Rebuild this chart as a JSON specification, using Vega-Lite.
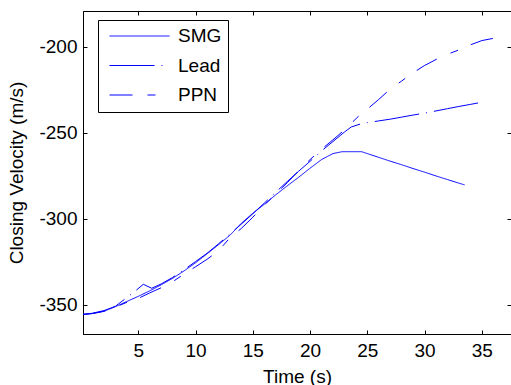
{
  "$schema": "https://vega.github.io/schema/vega-lite/v6.json",
  "autosize": "none",
  "width": 428,
  "height": 323,
  "padding": {"left": 83, "top": 11, "right": 0, "bottom": 51},
  "background": "white",
  "config": {
    "view": {"stroke": "black", "strokeWidth": 1},
    "font": "Liberation Sans",
    "axis": {
      "labelFont": "Liberation Sans", "labelFontSize": 19, "labelColor": "black",
      "titleFont": "Liberation Sans", "titleFontSize": 19, "titleColor": "black", "titleFontWeight": "normal",
      "domainColor": "black", "tickColor": "black", "grid": false
    }
  },
  "data": {"values": [
    {"series": "SMG", "t": 0.17, "v": -355.5},
    {"series": "SMG", "t": 1, "v": -355},
    {"series": "SMG", "t": 2, "v": -353.7},
    {"series": "SMG", "t": 3, "v": -351},
    {"series": "SMG", "t": 4, "v": -348},
    {"series": "SMG", "t": 5, "v": -345},
    {"series": "SMG", "t": 6, "v": -341.8},
    {"series": "SMG", "t": 7, "v": -338.3},
    {"series": "SMG", "t": 8, "v": -334.5},
    {"series": "SMG", "t": 9, "v": -330.2},
    {"series": "SMG", "t": 10, "v": -325.5},
    {"series": "SMG", "t": 11, "v": -320.3},
    {"series": "SMG", "t": 12, "v": -315},
    {"series": "SMG", "t": 13, "v": -309.5},
    {"series": "SMG", "t": 14, "v": -302.5},
    {"series": "SMG", "t": 15, "v": -296.7},
    {"series": "SMG", "t": 16, "v": -291.5},
    {"series": "SMG", "t": 17, "v": -286},
    {"series": "SMG", "t": 18, "v": -280.8},
    {"series": "SMG", "t": 19, "v": -275.8},
    {"series": "SMG", "t": 20, "v": -270.5},
    {"series": "SMG", "t": 21, "v": -265.5},
    {"series": "SMG", "t": 22, "v": -262},
    {"series": "SMG", "t": 22.8, "v": -260.9},
    {"series": "SMG", "t": 24.5, "v": -260.9},
    {"series": "SMG", "t": 25, "v": -262},
    {"series": "SMG", "t": 26, "v": -264.2},
    {"series": "SMG", "t": 27, "v": -266.4},
    {"series": "SMG", "t": 28, "v": -268.5},
    {"series": "SMG", "t": 29, "v": -270.7},
    {"series": "SMG", "t": 30, "v": -272.8},
    {"series": "SMG", "t": 31, "v": -275},
    {"series": "SMG", "t": 32, "v": -277.1},
    {"series": "SMG", "t": 33, "v": -279.2},
    {"series": "SMG", "t": 33.5, "v": -280.2},

    {"series": "Lead", "t": 0.17, "v": -355.5},
    {"series": "Lead", "t": 1, "v": -354.8},
    {"series": "Lead", "t": 2, "v": -353.3},
    {"series": "Lead", "t": 3, "v": -350.8},
    {"series": "Lead", "t": 4.57, "v": -342.8},
    {"series": "Lead", "t": 5.44, "v": -338},
    {"series": "Lead", "t": 6.17, "v": -340.3},
    {"series": "Lead", "t": 7, "v": -337.8},
    {"series": "Lead", "t": 8, "v": -334},
    {"series": "Lead", "t": 9, "v": -329.5},
    {"series": "Lead", "t": 10, "v": -324.8},
    {"series": "Lead", "t": 11, "v": -320},
    {"series": "Lead", "t": 12, "v": -314.5},
    {"series": "Lead", "t": 13, "v": -308.8},
    {"series": "Lead", "t": 14, "v": -303},
    {"series": "Lead", "t": 15, "v": -297},
    {"series": "Lead", "t": 16, "v": -290.8},
    {"series": "Lead", "t": 17, "v": -284.5},
    {"series": "Lead", "t": 18, "v": -278.3},
    {"series": "Lead", "t": 19, "v": -272.3},
    {"series": "Lead", "t": 20, "v": -266.5},
    {"series": "Lead", "t": 21, "v": -260.5},
    {"series": "Lead", "t": 22, "v": -255},
    {"series": "Lead", "t": 23, "v": -249.5},
    {"series": "Lead", "t": 23.6, "v": -246.5},
    {"series": "Lead", "t": 24.6, "v": -244.4},
    {"series": "Lead", "t": 25, "v": -244},
    {"series": "Lead", "t": 26, "v": -243},
    {"series": "Lead", "t": 27, "v": -242},
    {"series": "Lead", "t": 28, "v": -240.8},
    {"series": "Lead", "t": 29, "v": -239.6},
    {"series": "Lead", "t": 30, "v": -238.5},
    {"series": "Lead", "t": 31, "v": -237.2},
    {"series": "Lead", "t": 32, "v": -235.9},
    {"series": "Lead", "t": 33, "v": -234.6},
    {"series": "Lead", "t": 34, "v": -233.4},
    {"series": "Lead", "t": 34.8, "v": -232.4},

    {"series": "PPN", "t": 0.17, "v": -355.5},
    {"series": "PPN", "t": 1, "v": -355},
    {"series": "PPN", "t": 2, "v": -353.7},
    {"series": "PPN", "t": 3, "v": -351.2},
    {"series": "PPN", "t": 4, "v": -348.5},
    {"series": "PPN", "t": 5, "v": -346.2},
    {"series": "PPN", "t": 6, "v": -343},
    {"series": "PPN", "t": 7, "v": -340},
    {"series": "PPN", "t": 8, "v": -336.5},
    {"series": "PPN", "t": 9, "v": -332},
    {"series": "PPN", "t": 10, "v": -327.8},
    {"series": "PPN", "t": 11, "v": -323.5},
    {"series": "PPN", "t": 12, "v": -318.5},
    {"series": "PPN", "t": 13, "v": -311},
    {"series": "PPN", "t": 14, "v": -305.5},
    {"series": "PPN", "t": 15, "v": -299},
    {"series": "PPN", "t": 16, "v": -292},
    {"series": "PPN", "t": 17, "v": -285.5},
    {"series": "PPN", "t": 18, "v": -279},
    {"series": "PPN", "t": 19, "v": -272},
    {"series": "PPN", "t": 20, "v": -265.5},
    {"series": "PPN", "t": 21, "v": -259.5},
    {"series": "PPN", "t": 22, "v": -254},
    {"series": "PPN", "t": 23, "v": -248.3},
    {"series": "PPN", "t": 24.2, "v": -240.5},
    {"series": "PPN", "t": 25, "v": -236.2},
    {"series": "PPN", "t": 26, "v": -230.5},
    {"series": "PPN", "t": 27, "v": -224.5},
    {"series": "PPN", "t": 28, "v": -219.8},
    {"series": "PPN", "t": 29, "v": -215},
    {"series": "PPN", "t": 30, "v": -210.8},
    {"series": "PPN", "t": 31, "v": -207.3},
    {"series": "PPN", "t": 32, "v": -204.3},
    {"series": "PPN", "t": 33, "v": -201.7},
    {"series": "PPN", "t": 34, "v": -198.8},
    {"series": "PPN", "t": 35, "v": -196.3},
    {"series": "PPN", "t": 36, "v": -195}
  ]},
  "layer": [
    {
      "mark": {"type": "line", "color": "#0000ff", "strokeWidth": 1, "clip": true},
      "encoding": {
        "x": {"field": "t", "type": "quantitative",
              "scale": {"domain": [0.17, 37.55], "nice": false, "zero": false},
              "axis": {"orient": "bottom", "title": "Time (s)", "values": [5, 10, 15, 20, 25, 30, 35],
                       "tickSize": -4, "labelPadding": 11, "titlePadding": 7}},
        "y": {"field": "v", "type": "quantitative",
              "scale": {"domain": [-366.9, -179.1], "nice": false, "zero": false},
              "axis": {"orient": "left", "title": "Closing Velocity (m/s)", "values": [-350, -300, -250, -200],
                       "labelExpr": "'' + datum.value",
                       "tickSize": -4, "labelPadding": 10, "titlePadding": 12}},
        "strokeDash": {"field": "series", "type": "nominal",
          "scale": {"domain": ["SMG", "Lead", "PPN"], "range": [[1, 0], [45, 7, 1, 7], [23, 15, 8, 14]]},
          "legend": {
            "orient": "none", "legendX": 15, "legendY": 9, "title": null,
            "symbolType": "M-6,0H6", "symbolSize": 100, "symbolStrokeWidth": 1, "symbolStrokeColor": "#0000ff",
            "symbolOffset": 25.5, "labelOffset": 29,
            "labelFont": "Liberation Sans", "labelFontSize": 19, "labelColor": "black",
            "padding": 6.5, "rowPadding": 9.5, "strokeColor": "black", "fillColor": "white"
          }}
      }
    },
    {
      "mark": {"type": "line", "opacity": 0},
      "encoding": {
        "x": {"field": "t", "type": "quantitative",
              "axis": {"orient": "top", "title": null, "labels": false, "domain": false,
                       "values": [5, 10, 15, 20, 25, 30, 35], "tickSize": -4}},
        "y": {"field": "v", "type": "quantitative",
              "axis": {"orient": "right", "title": null, "labels": false, "domain": false,
                       "values": [-350, -300, -250, -200], "tickSize": -4}},
        "detail": {"field": "series"}
      }
    }
  ],
  "resolve": {"axis": {"x": "independent", "y": "independent"}}
}
